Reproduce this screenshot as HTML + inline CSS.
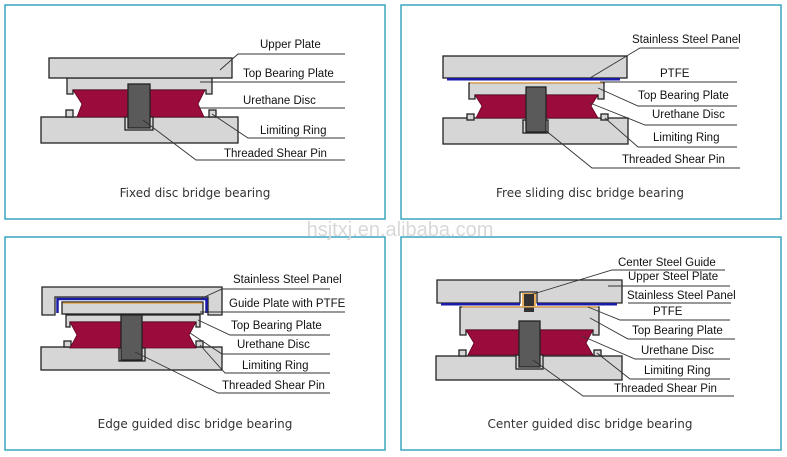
<!DOCTYPE html>
<html><head><meta charset="utf-8"><style>
html,body{margin:0;padding:0;background:#fff;}
svg{display:block;}
text{font-family:"Liberation Sans",Arial,sans-serif;font-size:11.5px;fill:#111;}
.cap{font-family:"DejaVu Sans",sans-serif;font-size:12px;fill:#333;}
.p{fill:#d6d6d6;stroke:#222;stroke-width:1.3;}
.d{fill:#9a0c3c;stroke:#60001e;stroke-width:0.8;}
.pin{fill:#5a5a5a;stroke:#222;stroke-width:1.3;}
.l{stroke:#333;stroke-width:0.9;fill:none;}
.b{fill:none;stroke:#3aa6bd;stroke-width:1.5;}
</style></head><body>
<svg width="787" height="457" viewBox="0 0 787 457" xmlns="http://www.w3.org/2000/svg">
<rect class="b" x="5" y="5" width="380" height="214"/>
<rect class="b" x="401" y="5" width="380" height="214"/>
<rect class="b" x="5" y="237" width="380" height="213"/>
<rect class="b" x="401" y="237" width="380" height="213"/>
<text x="400" y="236" text-anchor="middle" style="font-size:20px;fill:#d8d8d8">hsjtxj.en.alibaba.com</text>

<!-- Panel 1 -->
<rect class="p" x="41" y="117" width="197" height="26"/>
<rect class="p" x="66" y="110" width="7" height="7"/>
<rect class="p" x="209" y="110" width="7" height="7"/>
<path class="p" d="M67 78 H212 V94 H206 V90 H73 V94 H67 Z"/>
<rect class="p" x="49" y="58" width="183" height="20"/>
<path class="d" d="M73 90 H205 L198 104 L204 117 H77 L82 104 Z"/>
<rect class="p" x="125" y="117" width="28" height="13"/>
<rect class="pin" x="128" y="84" width="22" height="44"/>
<text x="260" y="48">Upper Plate</text>
<text x="243" y="77">Top Bearing Plate</text>
<text x="243" y="104">Urethane Disc</text>
<text x="260" y="134">Limiting Ring</text>
<text x="224" y="157">Threaded Shear Pin</text>
<path class="l" d="M220 70 L238 54 H345 M200 82 H345 M200 108 H345 M212 114 L248 138 H345 M143 120 L196 160 H345"/>
<text class="cap" x="195" y="197" text-anchor="middle">Fixed disc bridge bearing</text>

<!-- Panel 2 -->
<rect class="p" x="443" y="118" width="185" height="26"/>
<rect class="p" x="467" y="114" width="7" height="6"/>
<rect class="p" x="601" y="114" width="7" height="6"/>
<path class="p" d="M469 83 H604 V99 H598 V95 H475 V99 H469 Z"/>
<rect class="p" x="443" y="56" width="184" height="22"/>
<rect x="447" y="78" width="173" height="2.5" fill="#1a1aa8"/>
<rect x="470" y="82" width="133" height="1.5" fill="#e8b060"/>
<path class="d" d="M475 95 H598 L591 106 L598 118 H476 L482 106 Z"/>
<rect class="p" x="523" y="120" width="25" height="13"/>
<rect class="pin" x="526" y="87" width="20" height="45"/>
<text x="632" y="43">Stainless Steel Panel</text>
<text x="660" y="77">PTFE</text>
<text x="638" y="99">Top Bearing Plate</text>
<text x="652" y="118">Urethane Disc</text>
<text x="653" y="141">Limiting Ring</text>
<text x="622" y="163">Threaded Shear Pin</text>
<path class="l" d="M590 78 L640 48 H739 M600 82 H737 M598 88 L638 106 H737 M590 103 L645 125 H737 M605 118 L638 147 H737 M545 130 L592 168 H740"/>
<text class="cap" x="590" y="197" text-anchor="middle">Free sliding disc bridge bearing</text>

<!-- Panel 3 -->
<rect class="p" x="41" y="347" width="181" height="23"/>
<rect class="p" x="64" y="341" width="7" height="6"/>
<rect class="p" x="196" y="341" width="7" height="6"/>
<path class="p" d="M66 315 H200 V327 H196 V322 H70 V327 H66 Z"/>
<path class="p" d="M42 287 H222 V315 H208 V297 H55 V315 H42 Z"/>
<path d="M57.5 313 V299 H206.5 V313" fill="none" stroke="#1a1aa8" stroke-width="2.5"/>
<rect class="p" x="62" y="302" width="141" height="12"/>
<rect x="63" y="302.5" width="139" height="1.5" fill="#e8b060"/>
<path class="d" d="M70 322 H196 L189 335 L196 348 H70 L77 335 Z"/>
<rect class="p" x="119" y="348" width="26" height="13"/>
<rect class="pin" x="121" y="315" width="21" height="45"/>
<text x="233" y="283">Stainless Steel Panel</text>
<text x="229" y="307">Guide Plate with PTFE</text>
<text x="231" y="329">Top Bearing Plate</text>
<text x="237" y="348">Urethane Disc</text>
<text x="242" y="369">Limiting Ring</text>
<text x="222" y="389">Threaded Shear Pin</text>
<path class="l" d="M200 299 L222 289 H330 M200 312 H345 M198 320 L230 335 H330 M190 333 L222 354 H330 M200 345 L225 373 H330 M135 352 L218 393 H330"/>
<text class="cap" x="195" y="428" text-anchor="middle">Edge guided disc bridge bearing</text>

<!-- Panel 4 -->
<rect class="p" x="436" y="356" width="186" height="24"/>
<rect class="p" x="459" y="350" width="7" height="6"/>
<rect class="p" x="594" y="350" width="7" height="6"/>
<path class="p" d="M460 307 H599 V335 H593 V330 H466 V335 H460 Z"/>
<path class="p" d="M437 280 H622 V303 H537 V292 H520 V303 H437 Z"/>
<rect x="441" y="303" width="79" height="2.5" fill="#1a1aa8"/>
<rect x="537" y="303" width="80" height="2.5" fill="#1a1aa8"/>
<rect x="522" y="293" width="14" height="13" fill="#e8b060"/>
<rect x="524" y="294" width="10" height="18" fill="#333"/>
<rect x="462" y="306" width="136" height="1.5" fill="#e8b060"/>
<path class="d" d="M466 330 H593 L586 343 L593 355 H468 L474 343 Z"/>
<rect class="p" x="516" y="355" width="27" height="14"/>
<rect class="pin" x="519" y="321" width="21" height="46"/>
<text x="618" y="266">Center Steel Guide</text>
<text x="628" y="280">Upper Steel Plate</text>
<text x="627" y="299">Stainless Steel Panel</text>
<text x="653" y="315">PTFE</text>
<text x="632" y="334">Top Bearing Plate</text>
<text x="641" y="354">Urethane Disc</text>
<text x="644" y="374">Limiting Ring</text>
<text x="614" y="392">Threaded Shear Pin</text>
<path class="l" d="M530 295 L612 270 H725 M608 286 H730 M628 303 H731 M588 307 L620 320 H730 M590 318 L628 339 H735 M582 336 L635 359 H730 M597 353 L630 379 H730 M533 360 L583 396 H734"/>
<text class="cap" x="590" y="428" text-anchor="middle">Center guided disc bridge bearing</text>
</svg>
</body></html>
